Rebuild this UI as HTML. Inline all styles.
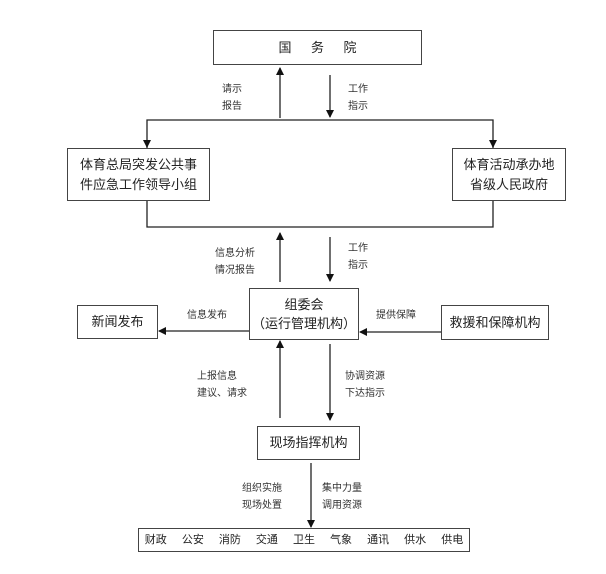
<!DOCTYPE html>
<html><head><meta charset="utf-8"><style>
body{margin:0;background:#fff;width:606px;height:574px;overflow:hidden;position:relative;font-family:"Liberation Sans","Noto Sans CJK SC",sans-serif;color:#222}
.b{position:absolute;border:1.5px solid #444;box-sizing:border-box;display:flex;align-items:center;justify-content:center;text-align:center;background:#fff;line-height:1.5}
.t{position:absolute;font-size:10px;line-height:17px;color:#333}
svg{position:absolute;left:0;top:0}
</style></head><body>
<svg width="606" height="574">
<defs><marker id="a" markerWidth="8" markerHeight="8" refX="7" refY="4" orient="auto" markerUnits="userSpaceOnUse"><path d="M0,0L8,4L0,8z" fill="#111"/></marker></defs>
<g stroke="#222" stroke-width="1.3" fill="none">
<line x1="280" y1="118" x2="280" y2="68" marker-end="url(#a)"/>
<line x1="330" y1="75" x2="330" y2="117" marker-end="url(#a)"/>
<polyline points="147,148 147,120 493,120 493,148"/>
<line x1="147" y1="140" x2="147" y2="147" marker-end="url(#a)"/>
<line x1="493" y1="140" x2="493" y2="147" marker-end="url(#a)"/>
<polyline points="147,201 147,227 493,227 493,201"/>
<line x1="280" y1="282" x2="280" y2="233" marker-end="url(#a)"/>
<line x1="330" y1="237" x2="330" y2="281" marker-end="url(#a)"/>
<line x1="249" y1="331" x2="159" y2="331" marker-end="url(#a)"/>
<line x1="441" y1="332" x2="360" y2="332" marker-end="url(#a)"/>
<line x1="280" y1="418" x2="280" y2="341" marker-end="url(#a)"/>
<line x1="330" y1="344" x2="330" y2="420" marker-end="url(#a)"/>
<line x1="311" y1="463" x2="311" y2="527" marker-end="url(#a)"/>
</g></svg>
<div class="b" style="left:213px;top:30px;width:209px;height:35px;font-size:13px;word-spacing:0">国&emsp;&ensp;务&emsp;&ensp;院</div>
<div class="b" style="left:67px;top:148px;width:143px;height:53px;font-size:13px">体育总局突发公共事<br>件应急工作领导小组</div>
<div class="b" style="left:452px;top:148px;width:114px;height:53px;font-size:13px">体育活动承办地<br>省级人民政府</div>
<div class="b" style="left:249px;top:288px;width:110px;height:52px;font-size:13px">组委会<br>（运行管理机构）</div>
<div class="b" style="left:77px;top:305px;width:81px;height:34px;font-size:13px">新闻发布</div>
<div class="b" style="left:441px;top:305px;width:108px;height:35px;font-size:13px">救援和保障机构</div>
<div class="b" style="left:257px;top:426px;width:103px;height:34px;font-size:13px">现场指挥机构</div>
<div class="b" style="left:138px;top:528px;width:332px;height:24px;font-size:11px;word-spacing:12px">财政 公安 消防 交通 卫生 气象 通讯 供水 供电</div>
<div class="t" style="left:222px;top:81px">请示<br>报告</div>
<div class="t" style="left:348px;top:81px">工作<br>指示</div>
<div class="t" style="left:215px;top:245px">信息分析<br>情况报告</div>
<div class="t" style="left:348px;top:240px">工作<br>指示</div>
<div class="t" style="left:187px;top:307px">信息发布</div>
<div class="t" style="left:376px;top:307px">提供保障</div>
<div class="t" style="left:197px;top:368px">上报信息<br>建议、请求</div>
<div class="t" style="left:345px;top:368px">协调资源<br>下达指示</div>
<div class="t" style="left:242px;top:480px">组织实施<br>现场处置</div>
<div class="t" style="left:322px;top:480px">集中力量<br>调用资源</div>
</body></html>
